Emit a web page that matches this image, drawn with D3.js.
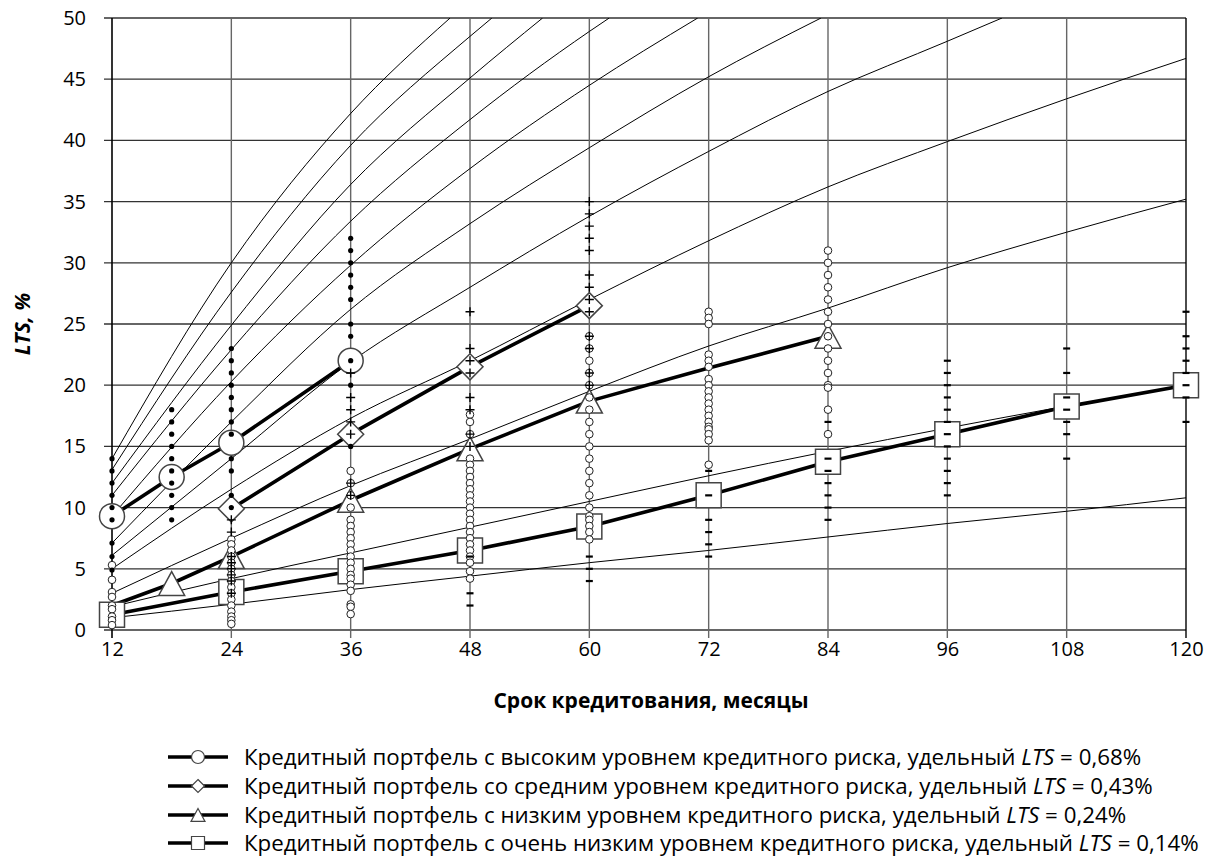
<!DOCTYPE html>
<html>
<head>
<meta charset="utf-8">
<script src="https://cdn.jsdelivr.net/npm/d3@7"></script>
<style>
  body { margin: 0; background: #fff; }
  svg text { font-family: "Open Sans", "Noto Sans", sans-serif; fill: #000; }
</style>
</head>
<body>
<div id="chart"></div>
<script>
// axis ticks
const monthTicks = [12, 24, 36, 48, 60, 72, 84, 96, 108, 120];
const ltsTicks = [0, 5, 10, 15, 20, 25, 30, 35, 40, 45, 50];

// thin reference curves, [month, LTS %]
const curve1 = [[12, 14.0], [24, 30.0], [36, 42.2], [46, 50]];
const curve2 = [[12, 13.1], [24, 27.6], [36, 39.6], [48, 48.5], [50.2, 50]];
const curve3 = [[12, 12.0], [24, 24.9], [36, 36.4], [48, 45.1], [55.3, 50]];
const curve4 = [[12, 11.0], [24, 22.9], [36, 33.4], [48, 41.7], [60, 48.9], [62, 50]];
const curve5 = [[12, 9.3], [24, 20.3], [36, 29.8], [48, 37.7], [60, 44.5], [70.9, 50]];
const curve6 = [[12, 7.1], [24, 17.0], [36, 26.2], [48, 33.2], [60, 39.4], [72, 45.2], [83.3, 50]];
const curve7 = [[12, 6.1], [24, 14.0], [36, 21.9], [48, 28.0], [60, 33.8], [72, 39.1], [84, 44.0], [96, 48.1], [101.5, 50]];
const curve8 = [[12, 5.0], [24, 11.5], [36, 17.3], [48, 22.0], [60, 27.0], [72, 31.8], [84, 36.2], [96, 39.9], [108, 43.4], [120, 46.7]];
const curve9 = [[12, 3.0], [24, 7.5], [36, 11.8], [48, 15.6], [60, 19.5], [72, 23.2], [84, 26.3], [96, 29.6], [108, 32.5], [120, 35.2]];
const curve10 = [[12, 1.9], [24, 4.2], [36, 6.3], [48, 8.4], [60, 10.5], [72, 12.6], [84, 14.6], [96, 16.5], [108, 18.3], [120, 20.0]];
const curve11 = [[12, 1.0], [24, 2.1], [36, 3.3], [48, 4.4], [60, 5.5], [72, 6.5], [84, 7.6], [96, 8.7], [108, 9.7], [120, 10.8]];
const refCurves = [curve1, curve2, curve3, curve4, curve5, curve6, curve7, curve8, curve9, curve10, curve11];

// main portfolio series
const highMonths = [12, 18, 24, 36];
const highLTS = [9.3, 12.5, 15.3, 22.0];
const midMonths = [24, 36, 48, 60];
const midLTS = [9.9, 16.0, 21.5, 26.5];
const lowMonths = [12, 18, 24, 36, 48, 60, 72, 84];
const lowLTS = [2.0, 3.8, 6.0, 10.6, 14.8, 18.7, 21.4, 24.0];
const lowMarked = [false, true, true, true, true, true, false, true];
const vlowMonths = [12, 24, 36, 48, 60, 72, 84, 96, 108, 120];
const vlowLTS = [1.25, 3.1, 4.8, 6.5, 8.45, 11.0, 13.75, 16.0, 18.25, 20.0];

// individual portfolios, [month, [LTS values]]
const dotsHigh = [
  [12, [14, 13, 12, 11, 10, 9, 7.1, 6, 4.9]],
  [18, [18, 17, 16, 15, 14, 13, 12, 11, 10, 9]],
  [24, [23, 22, 21, 20, 19, 18, 17, 16, 14, 13, 11, 10]],
  [36, [32, 31, 30, 29, 28, 27, 25, 24, 22, 20, 15]]
];
const plusMid = [
  [24, [9, 8, 6, 5.5, 5, 4.5, 4, 3]],
  [36, [21, 19, 18, 17, 16, 12, 11]],
  [48, [26, 23, 22, 21, 19, 18, 16, 15]],
  [60, [35, 34, 33, 32, 31, 29, 28, 27, 26, 24, 23, 21, 20]]
];
const ringsLow = [
  [12, [5.3, 4.1, 3.1, 2.7, 2.0, 1.7, 1.1, 0.8, 0.4]],
  [24, [7.4, 7, 6.5, 6, 5.5, 5, 4.5, 4, 3.5, 3, 2.5, 2, 1.5, 1.1, 0.8, 0.5]],
  [36, [13, 12, 11, 10, 9, 8.5, 8, 7.5, 7, 6.5, 6, 5.5, 5, 4.5, 4.2, 3.7, 3.2, 2.1, 1.9, 1.3]],
  [48, [17.6, 17, 16, 14, 13.5, 13, 12.5, 12, 11.5, 11, 10.5, 10, 9.5, 9, 8.5, 8, 7.5, 7, 6.5, 6, 5.5, 4.8, 4.2]],
  [60, [24, 23, 22, 21, 20, 19, 18, 17, 16, 15, 14, 13, 12, 11, 10, 9.3, 9, 8.5, 8, 7.4]],
  [72, [26, 25.5, 25, 22.5, 22, 21.5, 20.5, 20, 19.5, 19, 18.5, 18, 17.5, 17, 16.6, 16.4, 16, 15.5, 13.5]],
  [84, [31, 30, 29, 28, 27, 26, 25, 24, 23, 22, 21, 20, 19.8, 18, 16]]
];
const dashVlow = [
  [48, [6, 3, 2]],
  [60, [6, 5, 4]],
  [72, [13, 11, 9, 8, 7, 6]],
  [84, [17, 14, 13, 12, 11, 10, 9]],
  [96, [22, 21, 20, 19, 18, 17, 16, 15, 14, 13, 12, 11]],
  [108, [23, 21, 19, 18, 17, 16, 14]],
  [120, [26, 24, 23, 22, 21, 20, 19, 17]]
];

const legendLabels = [
  ["Кредитный портфель с высоким уровнем кредитного риска, удельный ", "0,68%"],
  ["Кредитный портфель со средним уровнем кредитного риска, удельный ", "0,43%"],
  ["Кредитный портфель с низким уровнем кредитного риска, удельный ", "0,24%"],
  ["Кредитный портфель с очень низким уровнем кредитного риска, удельный ", "0,14%"]
];

const W = 1208, H = 862;
const svg = d3.select("#chart").append("svg").attr("width", W).attr("height", H);

const x = d3.scaleLinear().domain([12, 120]).range([112, 1186]);
const y = d3.scaleLinear().domain([0, 50]).range([630, 18]);

// grid
svg.append("g").selectAll("line").data(ltsTicks).join("line")
  .attr("x1", x(12) - 8).attr("x2", x(120))
  .attr("y1", d => y(d)).attr("y2", d => y(d))
  .attr("stroke", "#333").attr("stroke-width", 1.3);
svg.append("g").selectAll("line").data(monthTicks).join("line")
  .attr("x1", d => x(d)).attr("x2", d => x(d))
  .attr("y1", y(50)).attr("y2", y(0) + 8)
  .attr("stroke", d => (d === 12 || d === 120) ? "#000" : "#666")
  .attr("stroke-width", d => (d === 12) ? 1.6 : 1.4);

// axes labels
const xAxis = d3.axisBottom(x).tickValues(monthTicks).tickSize(0).tickPadding(12);
svg.append("g").attr("transform", `translate(0,${y(0)})`).call(xAxis)
  .call(g => g.select(".domain").remove())
  .selectAll("text").style("font-size", "20px").style("font-family", "Open Sans");
const yAxis = d3.axisLeft(y).tickValues(ltsTicks).tickSize(0).tickPadding(26);
svg.append("g").attr("transform", `translate(${x(12)},0)`).call(yAxis)
  .call(g => g.select(".domain").remove())
  .selectAll("text").style("font-size", "20px").style("font-family", "Open Sans");

svg.append("text")
  .attr("x", 651).attr("y", 708)
  .attr("text-anchor", "middle")
  .style("font-size", "21px").style("font-weight", "bold")
  .text("Срок кредитования, месяцы");

svg.append("text")
  .attr("transform", "translate(30,324) rotate(-90)")
  .attr("text-anchor", "middle")
  .style("font-size", "21px").style("font-weight", "bold").style("font-style", "italic")
  .text("LTS, %");

// clip to plot area
svg.append("clipPath").attr("id", "plot")
  .append("rect").attr("x", x(12)).attr("y", y(50)).attr("width", x(120) - x(12)).attr("height", y(0) - y(50));

const line = d3.line().x(d => x(d[0])).y(d => y(d[1])).curve(d3.curveMonotoneX);

svg.append("g").attr("clip-path", "url(#plot)")
  .selectAll("path").data(refCurves).join("path")
  .attr("d", line)
  .attr("fill", "none").attr("stroke", "#000").attr("stroke-width", 1);

// symbol shapes
function shapePath(kind, s) {
  if (kind === "circle") return d3.symbol(d3.symbolCircle, Math.PI * s * s)();
  if (kind === "diamond") return `M0,${-s}L${s},0L0,${s}L${-s},0Z`;
  if (kind === "triangle") return `M0,${-s * 0.92}L${s},${s * 0.92}L${-s},${s * 0.92}Z`;
  return `M${-s},${-s}H${s}V${s}H${-s}Z`;
}

const series = [
  {kind: "circle", months: highMonths, vals: highLTS, size: 12.5, marked: highMonths.map(() => true)},
  {kind: "diamond", months: midMonths, vals: midLTS, size: 13, marked: midMonths.map(() => true)},
  {kind: "triangle", months: lowMonths, vals: lowLTS, size: 13, marked: lowMarked},
  {kind: "square", months: vlowMonths, vals: vlowLTS, size: 12.5, marked: vlowMonths.map(() => true)}
];

const boldLine = d3.line().x(d => x(d[0])).y(d => y(d[1]));
series.forEach(s => {
  const pts = s.months.map((m, i) => [m, s.vals[i]]);
  svg.append("path").datum(pts)
    .attr("d", boldLine)
    .attr("fill", "none").attr("stroke", "#000").attr("stroke-width", 3.6)
    .attr("stroke-linejoin", "round");
});
series.forEach(s => {
  const pts = s.months.map((m, i) => [m, s.vals[i], s.marked[i]]).filter(d => d[2]);
  svg.append("g").selectAll("path").data(pts).join("path")
    .attr("transform", d => `translate(${x(d[0])},${y(d[1])})`)
    .attr("d", shapePath(s.kind, s.size))
    .attr("fill", "#fff").attr("stroke", "#444").attr("stroke-width", 1.5);
});

// individual portfolios
function flatten(list) {
  return list.flatMap(([m, vals]) => vals.map(v => [m, v]));
}

svg.append("g").selectAll("circle").data(flatten(ringsLow)).join("circle")
  .attr("cx", d => x(d[0])).attr("cy", d => y(d[1])).attr("r", 3.8)
  .attr("fill", "#fff").attr("stroke", "#222").attr("stroke-width", 1);

svg.append("g").selectAll("path").data(flatten(plusMid)).join("path")
  .attr("transform", d => `translate(${x(d[0])},${y(d[1])})`)
  .attr("d", "M-4.5,0H4.5M0,-4.5V4.5")
  .attr("stroke", "#000").attr("stroke-width", 1.4);

svg.append("g").selectAll("line").data(flatten(dashVlow)).join("line")
  .attr("x1", d => x(d[0]) - 3.5).attr("x2", d => x(d[0]) + 3.5)
  .attr("y1", d => y(d[1])).attr("y2", d => y(d[1]))
  .attr("stroke", "#000").attr("stroke-width", 2.2);

svg.append("g").selectAll("circle").data(flatten(dotsHigh)).join("circle")
  .attr("cx", d => x(d[0])).attr("cy", d => y(d[1])).attr("r", 2.6)
  .attr("fill", "#000");

// legend
const legend = svg.append("g");
const rowY = [757, 786, 815, 843];
series.forEach((s, i) => {
  const g = legend.append("g").attr("transform", `translate(0,${rowY[i]})`);
  g.append("line").attr("x1", 168).attr("x2", 228).attr("y1", 0).attr("y2", 0)
    .attr("stroke", "#000").attr("stroke-width", 3.6);
  g.append("path").attr("transform", "translate(198,0)")
    .attr("d", shapePath(s.kind, s.kind === "triangle" ? 7 : 6.5))
    .attr("fill", "#fff").attr("stroke", "#444").attr("stroke-width", 1.2);
  const t = g.append("text").attr("x", 244).attr("y", 7.5).style("font-size", "22.3px");
  t.append("tspan").text(legendLabels[i][0]);
  t.append("tspan").style("font-style", "italic").text("LTS");
  t.append("tspan").text(" = " + legendLabels[i][1]);
});
</script>
</body>
</html>
